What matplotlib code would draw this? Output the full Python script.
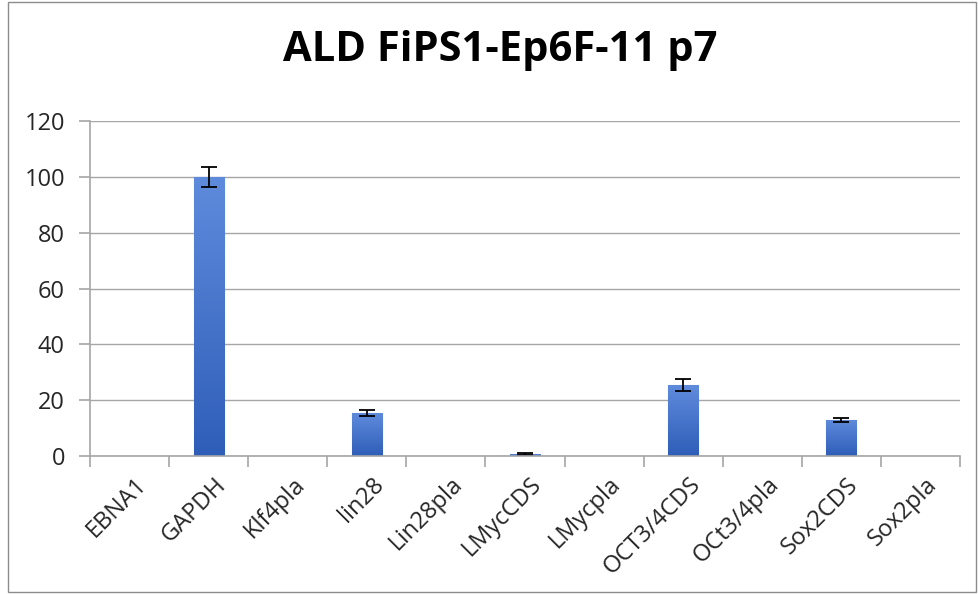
import matplotlib.pyplot as plt
import numpy as np
from matplotlib.colors import LinearSegmentedColormap
from matplotlib.patches import Rectangle
from matplotlib.transforms import ScaledTranslation

genes = ["EBNA1", "GAPDH", "Klf4pla", "lin28", "Lin28pla", "LMycCDS",
         "LMycpla", "OCT3/4CDS", "OCt3/4pla", "Sox2CDS", "Sox2pla"]
values = [0, 100, 0, 15.4, 0, 0.7, 0, 25.4, 0, 12.9, 0]
errors = [0, 3.5, 0, 1.1, 0, 0.3, 0, 2.1, 0, 0.7, 0]
y_ticks = [0, 20, 40, 60, 80, 100, 120]

plt.rcParams["font.family"] = ["Open Sans", "DejaVu Sans"]

fig = plt.figure(figsize=(9.79, 5.94), dpi=100)
ax = fig.add_axes([90 / 979, 1 - 456 / 594, 870 / 979, 335 / 594])

x = np.arange(len(genes))
bars = ax.bar(x, values, width=0.38, color="#3E6DCB", edgecolor="#8FAEE6",
              linewidth=0.8, zorder=3)

# excel-like vertical gradient inside each bar
grad = LinearSegmentedColormap.from_list("bar", ["#2F5EB9", "#5F8BDC"])
for b in bars:
    if b.get_height() <= 0:
        continue
    x0, w, h = b.get_x(), b.get_width(), b.get_height()
    im = ax.imshow(np.linspace(0, 1, 100).reshape(-1, 1), cmap=grad,
                   extent=[x0, x0 + w, 0, h], origin="lower", aspect="auto",
                   zorder=3)
    im.set_clip_path(b)

has_err = [i for i, v in enumerate(values) if v > 0]
ax.errorbar(x[has_err], [values[i] for i in has_err],
            yerr=[errors[i] for i in has_err], fmt="none", ecolor="black",
            elinewidth=1.3, capsize=6, capthick=1.3, zorder=4)

ax.set_yticks(y_ticks)
ax.set_yticklabels([str(t) for t in y_ticks], fontsize=17, color="#262626")
ax.yaxis.grid(True, color="#A6A6A6", linewidth=1.0, zorder=0)
ax.tick_params(axis="y", length=8, width=1.2, color="#A6A6A6", pad=10)

# category ticks sit between bars
ax.set_xticks(np.arange(len(genes) + 1) - 0.5)
ax.set_xticklabels([])
ax.set_xticks(x, minor=True)
ax.set_xticklabels(genes, minor=True, rotation=45, ha="right",
                   rotation_mode="anchor", fontsize=17, color="#262626")
ax.tick_params(axis="x", which="major", length=8, color="#A6A6A6",
               direction="out", width=1.2)
ax.tick_params(axis="x", which="minor", length=0, pad=12)
shift = ScaledTranslation(5 / 100, 0, fig.dpi_scale_trans)
for lbl in ax.get_xticklabels(minor=True):
    lbl.set_transform(lbl.get_transform() + shift)

for side in ["top", "right"]:
    ax.spines[side].set_visible(False)
for side in ["bottom", "left"]:
    ax.spines[side].set_color("#A6A6A6")
    ax.spines[side].set_linewidth(1.2)
    ax.spines[side].set_zorder(5)

ax.set_ylim(0, 120)
ax.set_xlim(-0.5, len(genes) - 0.5)

fig.text(0.511, 0.915, "ALD FiPS1-Ep6F-11 p7", ha="center", va="center",
         fontsize=30, fontweight="bold", color="black")

fig.patches.append(Rectangle((8 / 979, 2 / 594), 968 / 979, 590 / 594,
                             transform=fig.transFigure, fill=False,
                             edgecolor="#8C8C8C", linewidth=1.0))

fig.savefig("out.png", dpi=100)
